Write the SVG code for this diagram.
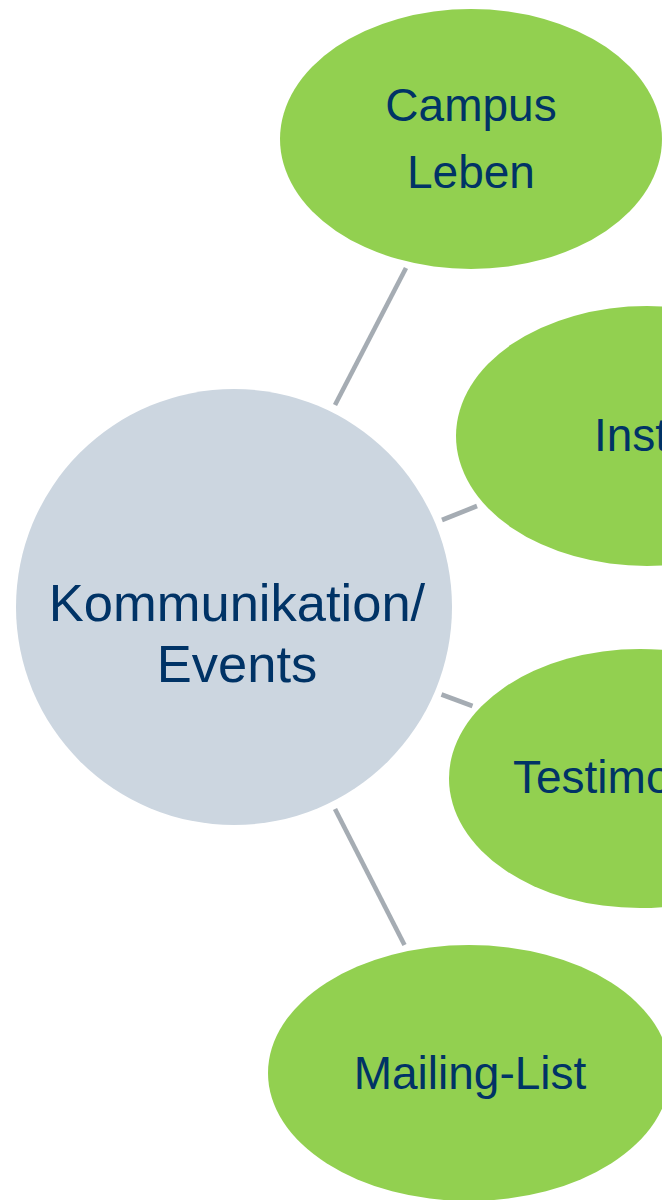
<svg xmlns="http://www.w3.org/2000/svg" width="662" height="1200" viewBox="0 0 662 1200">
<style>
.leaf{fill:#92D050}
.hub{fill:#CCD6E0}
.t{font-family:"Liberation Sans",Arial,sans-serif;fill:#003366}
.tl{font-size:46px}
.th{font-size:52.5px}
.c{stroke:#A5ACB3;stroke-width:4.6;fill:none;stroke-linecap:butt}
</style>
<rect width="662" height="1200" fill="#FFFFFF"/>
<g id="connectors">
<line class="c" x1="335" y1="405" x2="406" y2="268"/>
<line class="c" x1="442" y1="520" x2="477" y2="506"/>
<line class="c" x1="441.5" y1="694.5" x2="472.5" y2="706"/>
<line class="c" x1="335" y1="809" x2="404.5" y2="945"/>
</g>
<g id="hub">
<circle class="hub" cx="234" cy="607" r="218"/>
<text class="t th" x="237" y="621" text-anchor="middle">Kommunikation/</text>
<text class="t th" x="237" y="682" text-anchor="middle">Events</text>
</g>
<g id="campus-leben">
<ellipse class="leaf" cx="471" cy="139" rx="191" ry="130"/>
<text class="t tl" x="471" y="121" text-anchor="middle">Campus</text>
<text class="t tl" x="471" y="188" text-anchor="middle">Leben</text>
</g>
<g id="inst">
<ellipse class="leaf" cx="647" cy="436" rx="191" ry="130"/>
<text class="t tl" x="594" y="451">Inst</text>
</g>
<g id="testimo">
<ellipse class="leaf" cx="640" cy="778.5" rx="191" ry="129.5"/>
<text class="t tl" x="513" y="793">Testimo</text>
</g>
<g id="mailing-list">
<ellipse class="leaf" cx="469" cy="1073" rx="201" ry="128"/>
<text class="t tl" x="470" y="1089" text-anchor="middle">Mailing-List</text>
</g>
</svg>
